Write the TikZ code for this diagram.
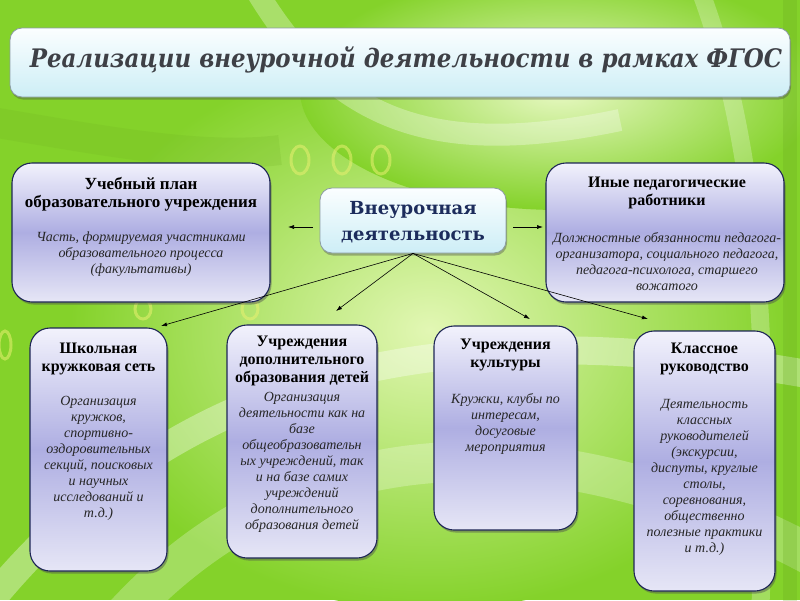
\documentclass[tikz,border=0pt]{standalone}
\usepackage{fontspec}
\setmainfont{Liberation Serif}
\newfontfamily\dvs{DejaVu Serif}
\newfontfamily\dvstitle[FakeStretch=0.9]{DejaVu Serif}
\usetikzlibrary{shadows,arrows.meta}
\definecolor{bggreen}{HTML}{84D22A}
\definecolor{bglight}{HTML}{E2F7B4}
\definecolor{ringyellow}{HTML}{E8F070}
\definecolor{lavtop}{HTML}{F2F2FC}
\definecolor{lavmid}{HTML}{AEAEE2}
\definecolor{lavbot}{HTML}{E6E6F6}
\definecolor{panelborder}{HTML}{1E2656}
\definecolor{cyantop}{HTML}{FBFEFF}
\definecolor{cyanbot}{HTML}{CDEEF6}
\definecolor{boxgray}{HTML}{8C9CA4}
\definecolor{titlegray}{HTML}{3E4046}
\definecolor{navytext}{HTML}{1C2C5C}
\begin{document}
\begin{tikzpicture}[x=1pt,y=-1pt,
  panel/.style={draw=panelborder, line width=1.1pt, rounded corners=20pt,
    top color=lavtop, bottom color=lavbot, middle color=lavmid, inner sep=0pt,
    drop shadow={shadow xshift=1.5pt, shadow yshift=-2.5pt, opacity=.45, fill=black!70}},
  cyanbox/.style={draw=boxgray, line width=0.8pt, rounded corners=12pt,
    top color=cyantop, bottom color=cyanbot, inner sep=0pt,
    drop shadow={shadow xshift=1pt, shadow yshift=-2.5pt, opacity=.4, fill=black!70}},
  head/.style={anchor=north, align=center, inner sep=0pt, font=\fontsize{16}{18}\selectfont\bfseries},
  desc/.style={anchor=north, align=center, inner sep=0pt, font=\fontsize{14}{16}\selectfont\itshape, text=black!85},
  conn/.style={-{Latex[length=6pt,width=4pt]}, line width=0.6pt, black},
  ring/.style={draw=ringyellow, line width=3pt, opacity=.55},
]
\useasboundingbox (0,0) rectangle (800,600);
% ---------- background ----------
\fill[bggreen] (0,0) rectangle (800,600);
\begin{scope}
\clip (0,0) rectangle (800,600);
\shade[inner color=bglight, outer color=bggreen] (430,330) ellipse (360 and 280);
\shade[inner color=bglight!80!white, outer color=bggreen] (560,90) ellipse (260 and 120);
\draw[white, opacity=.35, line width=28pt] (-40,640) .. controls (150,380) and (420,300) .. (840,380);
\draw[white, opacity=.25, line width=40pt] (120,620) .. controls (300,420) and (560,420) .. (820,560);
\draw[white, opacity=.3, line width=22pt] (250,-20) .. controls (330,120) and (430,160) .. (620,120);
\draw[white, opacity=.25, line width=18pt] (700,-10) .. controls (760,150) and (770,350) .. (760,620);
\draw[bggreen!80!black, opacity=.25, line width=14pt] (790,-10) -- (790,620);
\draw[bggreen!85!black, opacity=.2, line width=30pt] (-20,120) .. controls (100,140) and (200,160) .. (280,150);
\draw[ring] (300,160) ellipse (9 and 14);
\draw[ring] (342,160) ellipse (9 and 14);
\draw[ring] (381,160) ellipse (9 and 14);
\draw[ring] (143,309) ellipse (8 and 10);
\draw[ring] (250,309) ellipse (8 and 10);
\draw[ring] (5,345) ellipse (6 and 14);
\end{scope}
% ---------- title ----------
\node[cyanbox, minimum width=780pt, minimum height=69pt] (title) at (400,62.5) {};
\node[inner sep=0pt, text=titlegray, font=\dvstitle\fontsize{25.5}{28}\selectfont\bfseries\itshape] (titletext) at (406,60) {Реализации внеурочной деятельности в рамках ФГОС};
% ---------- central ----------
\node[cyanbox, minimum width=186pt, minimum height=65pt] (central) at (413,220.5) {};
\node[inner sep=0pt, align=center, text=navytext, font=\dvs\fontsize{18}{26}\selectfont\bfseries] (centraltext) at (413,222) {Внеурочная\\деятельность};
% ---------- panels ----------
\node[panel, minimum width=258pt, minimum height=139pt] (plan) at (141,232.5) {};
\node[panel, minimum width=238pt, minimum height=139pt] (other) at (665,232.5) {};
\node[panel, minimum width=137pt, minimum height=243pt] (school) at (98.5,449.5) {};
\node[panel, minimum width=150pt, minimum height=233pt] (dop) at (302,441.5) {};
\node[panel, minimum width=143pt, minimum height=204pt] (cult) at (505.5,428) {};
\node[panel, minimum width=141pt, minimum height=260pt] (klass) at (704.5,461) {};
% ---------- panel texts ----------
\node[head, font=\fontsize{17}{18}\selectfont\bfseries] (planh) at (141,177) {Учебный план\\образовательного учреждения};
\node[desc] (pland) at (141,232) {Часть, формируемая участниками\\образовательного процесса\\(факультативы)};
\node[head] (otherh) at (667,177) {Иные педагогические\\работники};
\node[desc] (otherd) at (667,232) {Должностные обязанности педагога-\\организатора, социального педагога,\\педагога-психолога, старшего\\вожатого};
\node[head] (schoolh) at (98.5,343) {Школьная\\кружковая сеть};
\node[desc] (schoold) at (98.5,396) {Организация\\кружков,\\спортивно-\\оздоровительных\\секций, поисковых\\и научных\\исследований и\\т.д.)};
\node[head] (doph) at (302,336) {Учреждения\\дополнительного\\образования детей};
\node[desc] (dopd) at (302,392) {Организация\\деятельности как на\\базе\\общеобразовательн\\ых учреждений, так\\и на базе самих\\учреждений\\дополнительного\\образования детей};
\node[head] (culth) at (505.5,339) {Учреждения\\культуры};
\node[desc] (cultd) at (505.5,393) {Кружки, клубы по\\интересам,\\досуговые\\мероприятия};
\node[head] (klassh) at (704.5,343) {Классное\\руководство};
\node[desc] (klassd) at (704.5,399) {Деятельность\\классных\\руководителей\\(экскурсии,\\диспуты, круглые\\столы,\\соревнования,\\общественно\\полезные практики\\и т.д.)};
% ---------- connectors ----------
\coordinate (tipL) at (288,227);
\coordinate (tipR) at (543,227);
\coordinate (tip1) at (161,326);
\coordinate (tip2) at (336,311);
\coordinate (tip3) at (530,319);
\coordinate (tip4) at (648,319);
\draw[conn] ([shift={(-7,6.5)}]central.west) -- (tipL);
\draw[conn] ([shift={(7,6.5)}]central.east) -- (tipR);
\draw[conn] (central.south) -- (tip1);
\draw[conn] (central.south) -- (tip2);
\draw[conn] (central.south) -- (tip3);
\draw[conn] (central.south) -- (tip4);
\end{tikzpicture}
\end{document}
